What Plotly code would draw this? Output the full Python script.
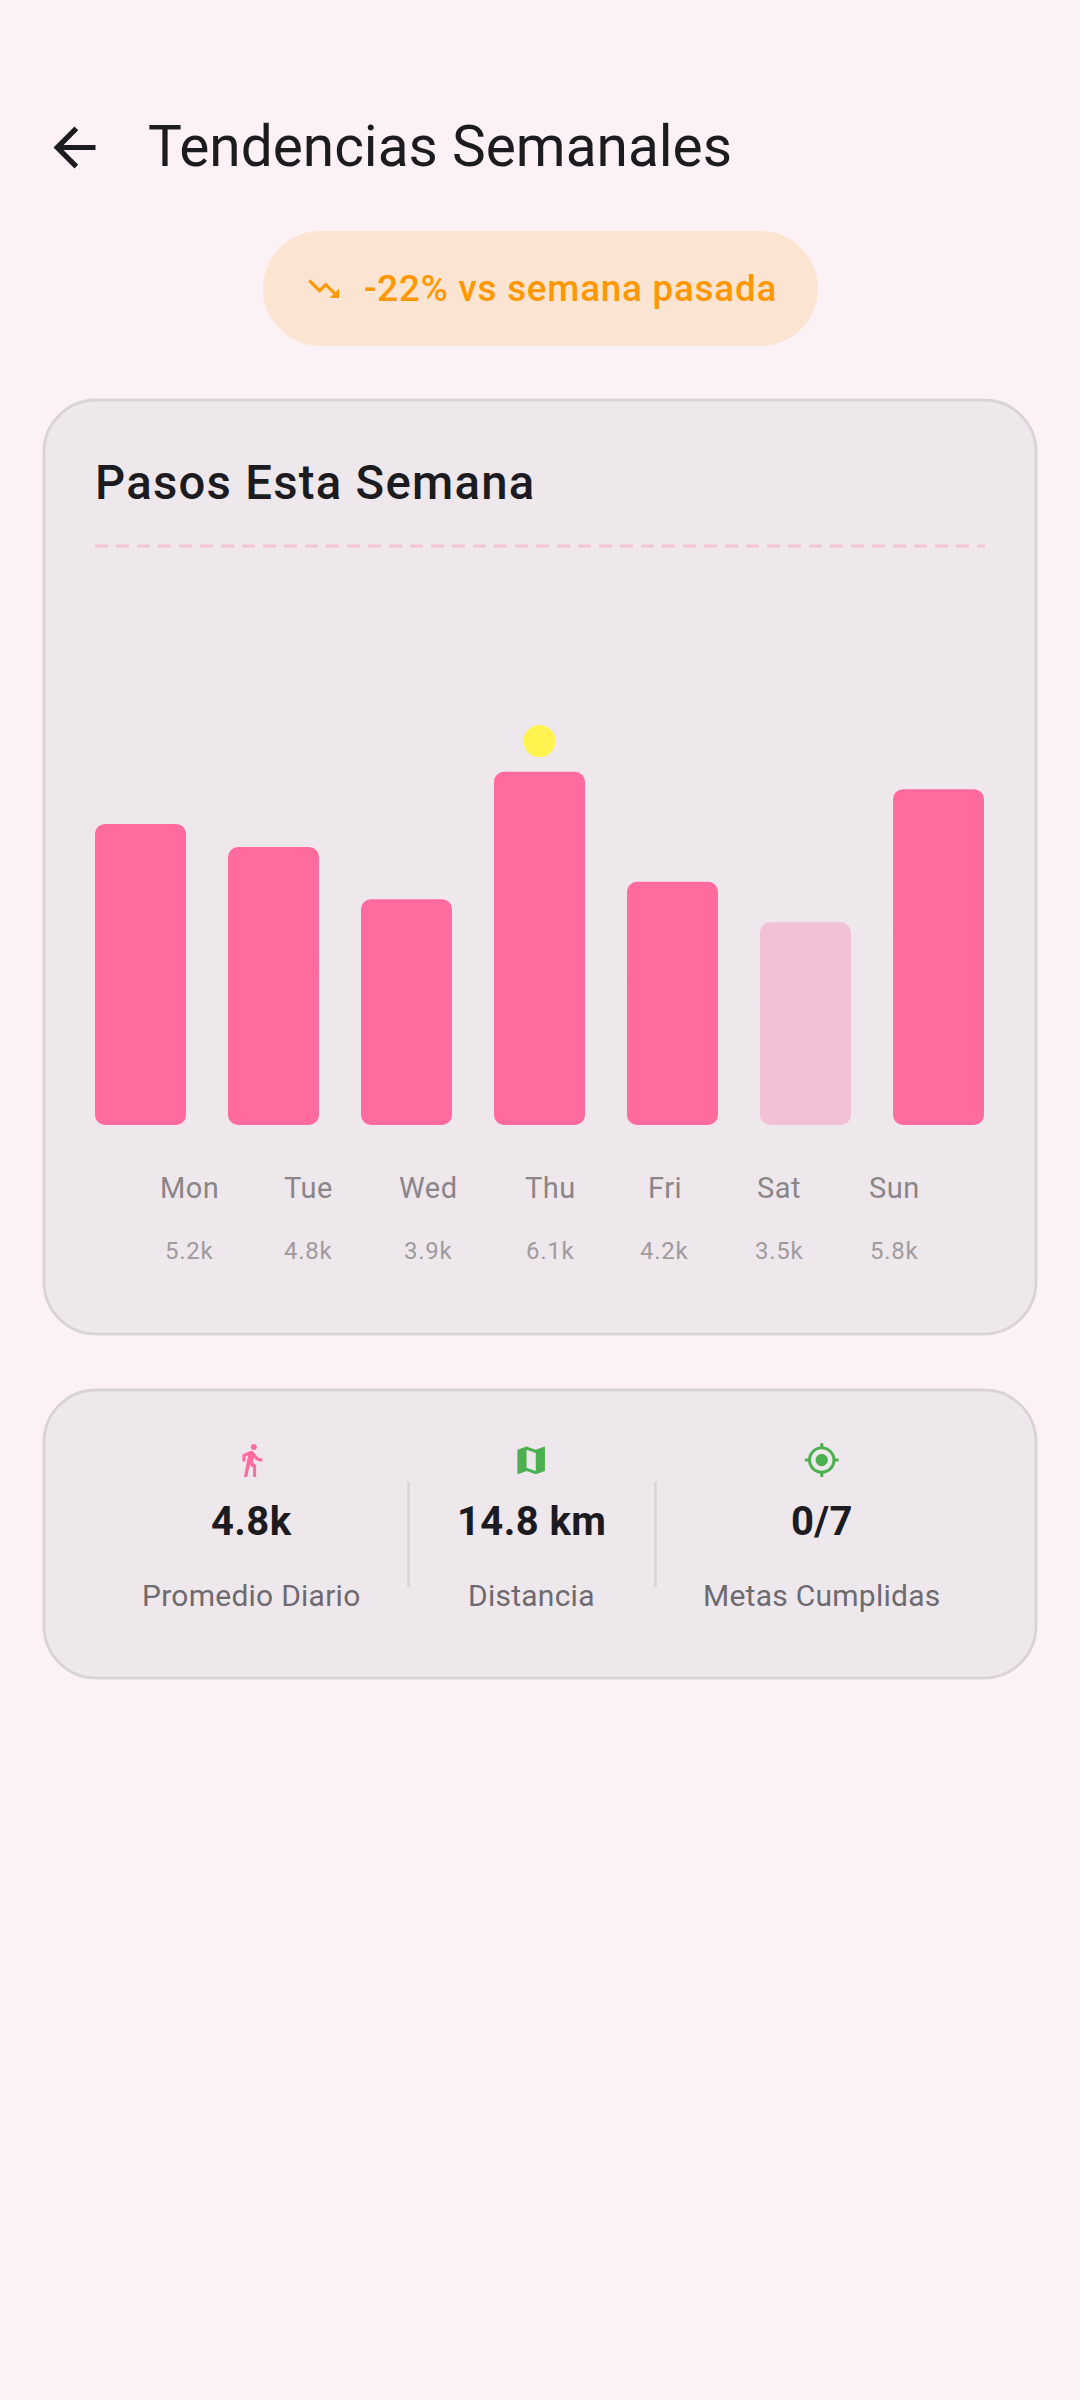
import re
import plotly.graph_objects as go

# --- datos del grafico ---
days = ["Mon", "Tue", "Wed", "Thu", "Fri", "Sat", "Sun"]
steps_k = [5.2, 4.8, 3.9, 6.1, 4.2, 3.5, 5.8]
step_labels = ["5.2k", "4.8k", "3.9k", "6.1k", "4.2k", "3.5k", "5.8k"]
goal_k = 10
low_day = "Sat"
stat_values = ["4.8k", "14.8 km", "0/7"]
stat_names = ["Promedio Diario", "Distancia", "Metas Cumplidas"]

# colores
BG = "#FCF2F5"
CARD = "#EEE8EC"
BORDER = "#D8D3D7"
DARK = "#1C1B1F"
PINK = "#FF6B9D"
PINK_SOFT = "#F3C1D5"
GREEN = "#4CAF50"
ORANGE = "#FF9800"

# iconos material (viewBox 24)
ICON_BACK = "M20 11H7.83l5.59-5.59L12 4l-8 8 8 8 1.41-1.41L7.83 13H20v-2z"
ICON_DOWN = "M16 18l2.29-2.29-4.88-4.88-4 4L2 7.41 3.41 6l6 6 4-4 6.3 6.29L22 12v6z"
ICON_WALK = ("M13.5 5.5c1.1 0 2-.9 2-2s-.9-2-2-2-2 .9-2 2 .9 2 2 2z"
             "M9.8 8.9L7 23h2.1l1.8-8 2.1 2v6h2v-7.5l-2.1-2 .6-3C14.8 12 16.8 13 19 13v-2"
             "c-1.9 0-3.5-1-4.3-2.4l-1-1.6c-.4-.6-1-1-1.7-1-.3 0-.5.1-.8.1L6 8.3V13h2V9.6l1.8-.7z")
ICON_MAP = ("M20.5 3l-.16.03L15 5.1 9 3 3.36 4.9c-.21.07-.36.25-.36.48V20.5c0 .28.22.5.5.5"
            "l.16-.03L9 18.9l6 2.1 5.64-1.9c.21-.07.36-.25.36-.48V3.5c0-.28-.22-.5-.5-.5z"
            "M15 19l-6-2.11V5l6 2.11V19z")
ICON_GPS = ("M12 8c-2.21 0-4 1.79-4 4s1.79 4 4 4 4-1.79 4-4-1.79-4-4-4z"
            "m8.94 3c-.46-4.17-3.77-7.48-7.94-7.94V1h-2v2.06C6.83 3.52 3.52 6.83 3.06 11H1v2h2.06"
            "c.46 4.17 3.77 7.48 7.94 7.94V23h2v-2.06c4.17-.46 7.48-3.77 7.94-7.94H23v-2h-2.06z"
            "M12 19c-3.87 0-7-3.13-7-7s3.13-7 7-7 7 3.13 7 7-3.13 7-7 7z")


def icon_path(d, left, top, scale):
    # plotly no acepta comandos relativos en shapes, se pasa todo a absoluto
    tokens = re.findall(r"[MmLlHhVvCcSsZz]|-?\d*\.?\d+", d)
    out, i, cx, cy, sx, sy, cmd = [], 0, 0.0, 0.0, 0.0, 0.0, None
    lastc = None

    def pt(x, y):
        return f"{left + x * scale:.2f},{top + y * scale:.2f}"

    while i < len(tokens):
        if re.match(r"[A-Za-z]", tokens[i]):
            cmd = tokens[i]
            i += 1
            if cmd in "Zz":
                out.append("Z")
                cx, cy = sx, sy
                continue
        rel = cmd.islower()
        c = cmd.upper()
        n = {"M": 2, "L": 2, "H": 1, "V": 1, "C": 6, "S": 4}[c]
        v = [float(t) for t in tokens[i:i + n]]
        i += n
        if c == "H":
            cx = cx + v[0] if rel else v[0]
            out.append("L" + pt(cx, cy))
        elif c == "V":
            cy = cy + v[0] if rel else v[0]
            out.append("L" + pt(cx, cy))
        elif c in "ML":
            cx, cy = (cx + v[0], cy + v[1]) if rel else (v[0], v[1])
            out.append(c + pt(cx, cy))
            if c == "M":
                sx, sy = cx, cy
                cmd = "l" if rel else "L"
        else:
            if c == "S":
                x1, y1 = (2 * cx - lastc[0], 2 * cy - lastc[1]) if lastc else (cx, cy)
                rest = v
            else:
                x1, y1 = (cx + v[0], cy + v[1]) if rel else (v[0], v[1])
                rest = v[2:]
            x2, y2, x, y = rest
            if rel:
                x2, y2, x, y = cx + x2, cy + y2, cx + x, cy + y
            out.append("C" + pt(x1, y1) + " " + pt(x2, y2) + " " + pt(x, y))
            lastc = (x2, y2)
            cx, cy = x, y
            continue
        lastc = None
    return " ".join(out)


def round_rect(x0, y0, x1, y1, r):
    # esquinas circulares con curvas cubicas (k = aproximacion del arco)
    k = r * 0.4477
    return (f"M{x0 + r},{y0} L{x1 - r},{y0} C{x1 - k},{y0} {x1},{y0 + k} {x1},{y0 + r} "
            f"L{x1},{y1 - r} C{x1},{y1 - k} {x1 - k},{y1} {x1 - r},{y1} "
            f"L{x0 + r},{y1} C{x0 + k},{y1} {x0},{y1 - k} {x0},{y1 - r} "
            f"L{x0},{y0 + r} C{x0},{y0 + k} {x0 + k},{y0} {x0 + r},{y0} Z")


fig = go.Figure()

bar_colors = [PINK_SOFT if d == low_day else PINK for d in days]

# las barras se redondean solo en el extremo, asi que van dos mitades solapadas
fig.add_trace(go.Bar(
    x=days, y=[v * 0.6 for v in steps_k], base=[v * 0.4 for v in steps_k], opacity=1,
    marker=dict(color=bar_colors, cornerradius=10.5, line=dict(width=0)),
    xaxis="x2", yaxis="y2", showlegend=False, text=step_labels, textposition="none",
))
fig.add_trace(go.Bar(
    x=days, y=[-v * 0.6 for v in steps_k], base=[v * 0.6 for v in steps_k], opacity=1,
    marker=dict(color=bar_colors, cornerradius=10.5, line=dict(width=0)),
    xaxis="x2", yaxis="y2", showlegend=False, hoverinfo="skip",
))

# punto amarillo sobre el dia con mas pasos
best = steps_k.index(max(steps_k))
fig.add_trace(go.Scatter(
    x=[days[best]], y=[steps_k[best] + 0.53], mode="markers",
    marker=dict(color="#FFF44F", size=32, line=dict(width=0)),
    xaxis="x2", yaxis="y2", showlegend=False,
))

# --- tarjetas, pill y lineas ---
shapes = [
    dict(type="path", path=round_rect(263, 231, 818, 346, 57.5), fillcolor="#FCE4D2", line=dict(width=0)),
    dict(type="path", path=round_rect(44, 400, 1036, 1334, 52), fillcolor=CARD, line=dict(color=BORDER, width=2.8)),
    dict(type="path", path=round_rect(44, 1390, 1036, 1678, 52), fillcolor=CARD, line=dict(color=BORDER, width=2.8)),
    dict(type="line", xref="x", yref="y", x0=408.5, x1=408.5, y0=1482, y1=1587, line=dict(color=BORDER, width=2.6)),
    dict(type="line", xref="x", yref="y", x0=655.5, x1=655.5, y0=1482, y1=1587, line=dict(color=BORDER, width=2.6)),
]
for d, left, top, scale, color in [
    (ICON_BACK, 43, 116, 2.625, DARK),
    (ICON_DOWN, 305, 270, 1.55, ORANGE),
    (ICON_WALK, 233.2, 1441.7, 1.53, PINK),
    (ICON_MAP, 512.8, 1442, 1.53, GREEN),
    (ICON_GPS, 803.4, 1441.7, 1.53, GREEN),
]:
    shapes.append(dict(type="path", path=icon_path(d, left, top, scale), fillcolor=color, line=dict(width=0)))
for s in shapes:
    s.setdefault("xref", "x")
    s.setdefault("yref", "y")
    s["layer"] = "below"

# linea de meta, en el eje de las barras
shapes.append(dict(type="line", xref="x", yref="y2", x0=95, x1=985, y0=goal_k, y1=goal_k, layer="above",
                   line=dict(color="#F4C5D7", width=3, dash="13px,8px")))


# --- textos ---
def label(text, x, y, size, color, anchor="center", weight=400, spacing=0):
    if spacing:
        text = f'<span style="letter-spacing:{spacing}px">{text}</span>'
    return dict(text=text, x=x, y=y, xref="x", yref="y", xanchor=anchor, align=anchor, yanchor="middle",
                showarrow=False, font=dict(family="Roboto", size=size, color=color, weight=weight))


day_label_x = [189.5, 308.5, 428, 550, 664.5, 779, 894]
stat_x = [251, 531, 821.5]
annotations = [
    label("Tendencias Semanales", 146, 146, 56.8, DARK, "left"),
    label("-22% vs semana pasada", 362, 288, 36.75, ORANGE, "left", 500, 0.8),
    label("Pasos Esta Semana", 93, 483, 47.25, DARK, "left", 500, 1.28),
]
for name, val, x in zip(days, step_labels, day_label_x):
    annotations.append(label(name, x, 1188, 29, "#8A8589", spacing=0.5))
    annotations.append(label(val, x, 1251, 24, "#A09A9E", spacing=0.75))
for val, name, x in zip(stat_values, stat_names, stat_x):
    annotations.append(label(val, x, 1521, 40, DARK, weight=700, spacing=0.4))
    annotations.append(label(name, x, 1595, 30, "#6F6A70", spacing=0.25))

fig.update_layout(
    width=1080, height=2400,
    margin=dict(l=0, r=0, t=0, b=0),
    paper_bgcolor=BG, plot_bgcolor="rgba(0,0,0,0)",
    barmode="overlay", bargap=42 / 133,
    shapes=shapes, annotations=annotations,
    # eje "lienzo" en pixeles de pantalla
    xaxis=dict(domain=[0, 1], range=[0, 1080], visible=False, fixedrange=True),
    yaxis=dict(domain=[0, 1], range=[2400, 0], visible=False, fixedrange=True),
    # eje de las barras: 133 px por dia (bordes en pixel entero) y 57.9 px por cada mil pasos
    xaxis2=dict(domain=[74 / 1080, 1005 / 1080], anchor="y2", type="category", range=[-0.5, 6.5],
                visible=False, fixedrange=True),
    yaxis2=dict(domain=[1 - 1125 / 2400, 1 - (1125 - 608) / 2400], anchor="x2", range=[0, 10.5],
                visible=False, fixedrange=True),
)

fig.write_html("out.html", config=dict(displayModeBar=False),
               post_script="document.body.style.margin='0';document.body.style.overflow='hidden';")
